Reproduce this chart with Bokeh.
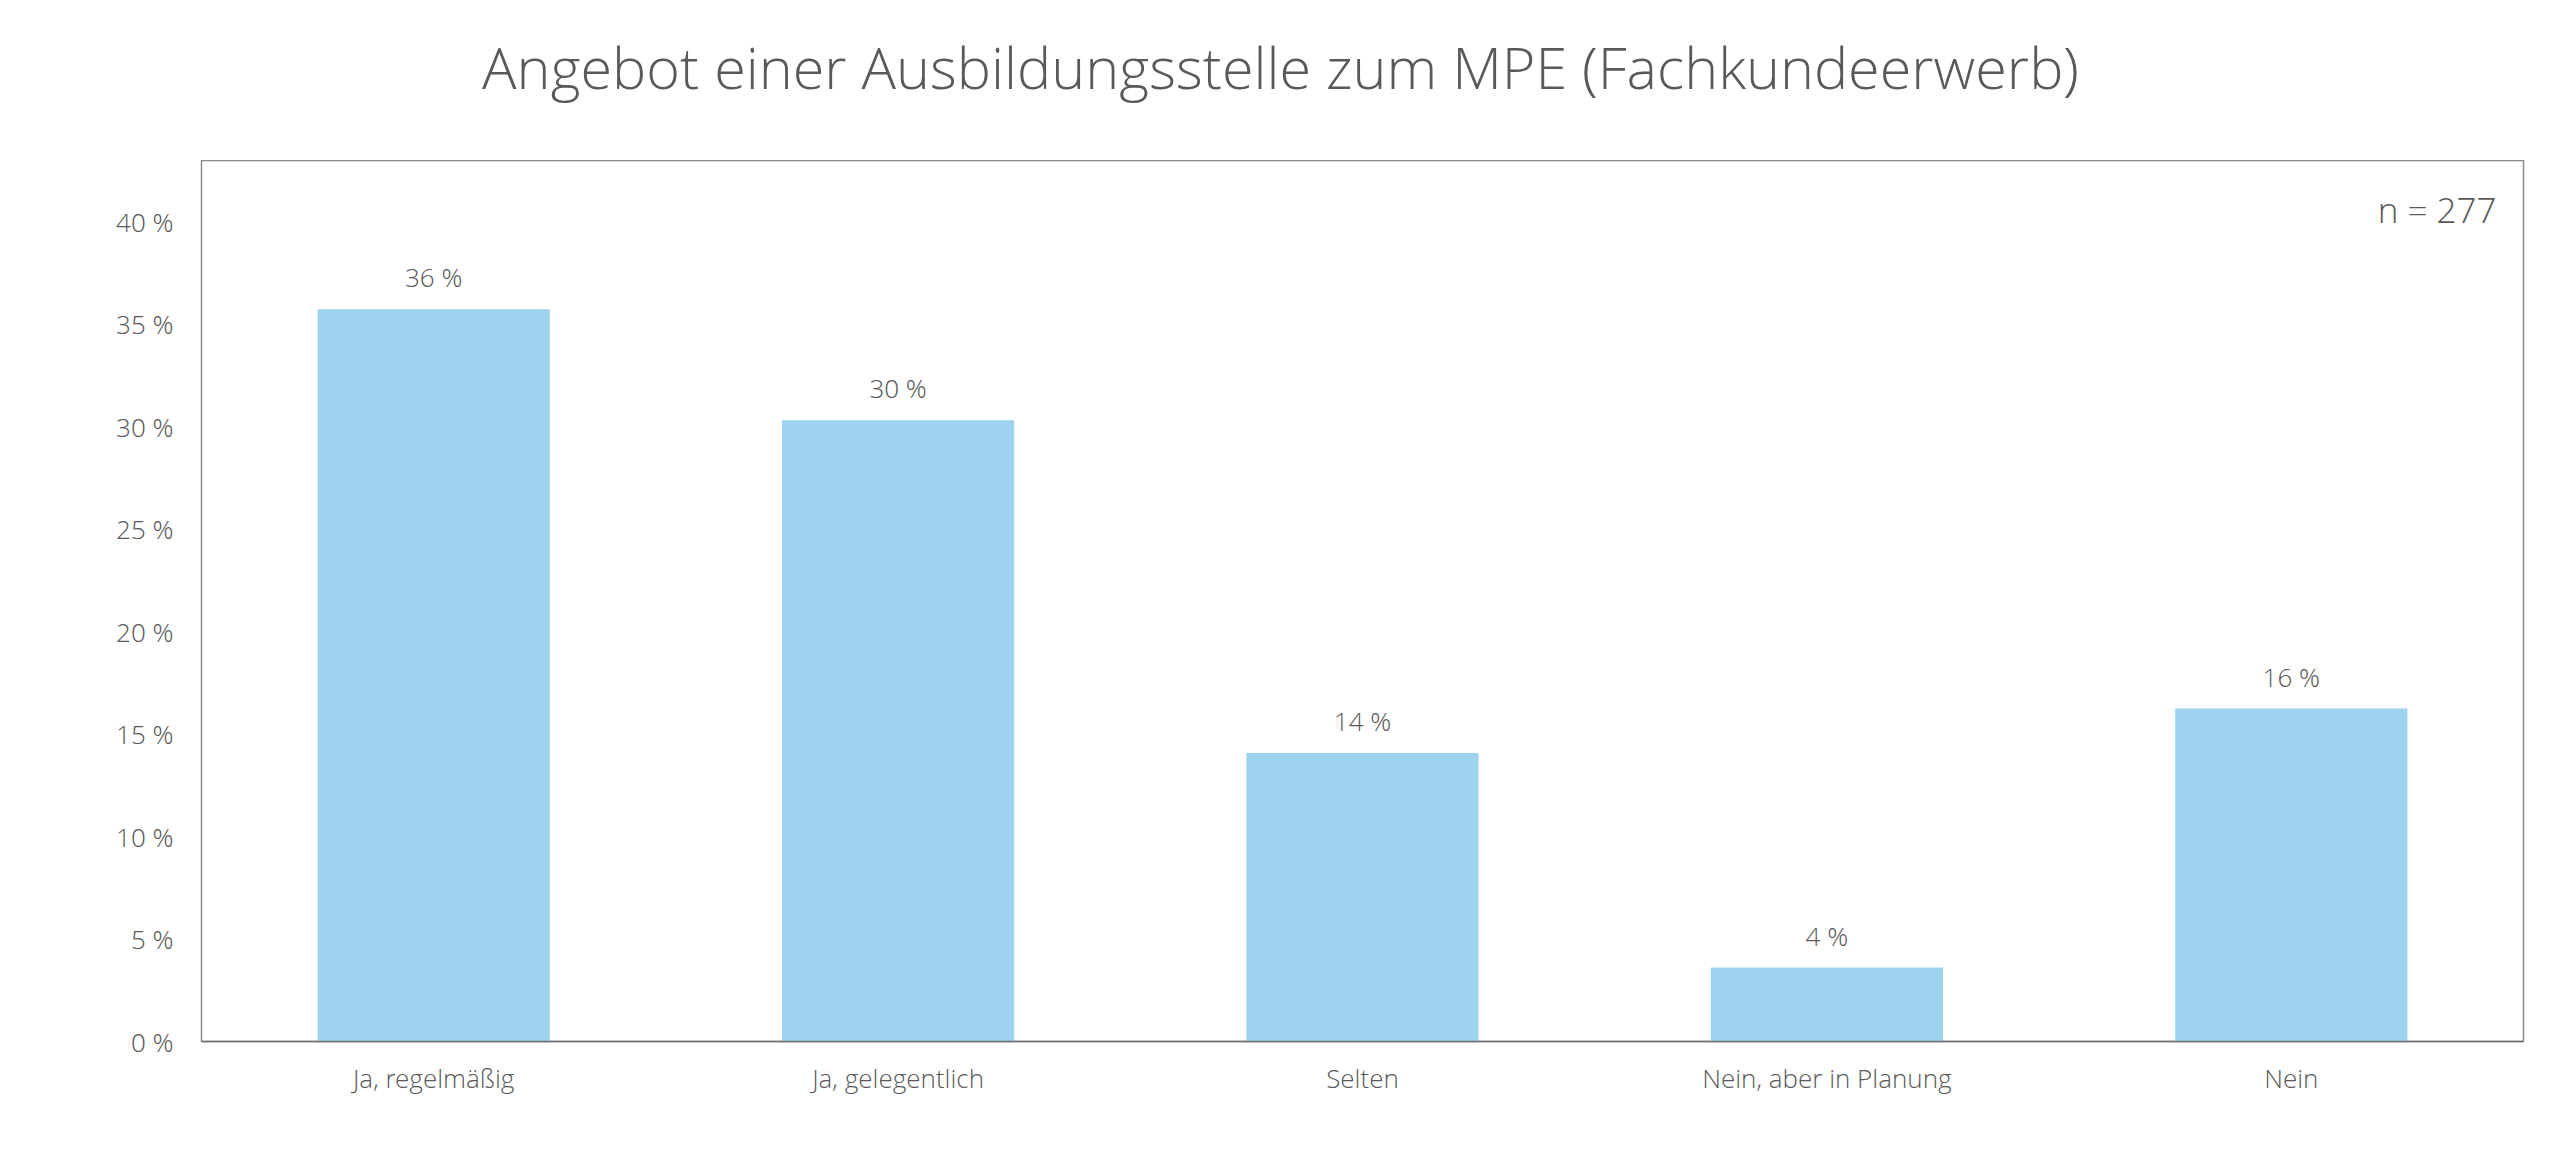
from bokeh.plotting import figure
from bokeh.layouts import column
from bokeh.models import ColumnDataSource, FixedTicker, Label, Range1d, FactorRange
from bokeh.core.properties import value
from bokeh.embed import file_html
from bokeh.resources import INLINE

categories = ["Ja, regelmäßig", "Ja, gelegentlich", "Selten", "Nein, aber in Planung", "Nein"]
percent_values = [35.74, 30.32, 14.08, 3.61, 16.25]
value_labels = ["36 %", "30 %", "14 %", "4 %", "16 %"]
y_ticks = [0, 5, 10, 15, 20, 25, 30, 35, 40]
y_tick_labels = ["0 %", "5 %", "10 %", "15 %", "20 %", "25 %", "30 %", "35 %", "40 %"]
title_text = "Angebot einer Ausbildungsstelle zum MPE (Fachkundeerwerb)"
n_text = "n = 277"

FONT = "'Open Sans Light', 'Open Sans'"
TXT = "#595959"
BAR = "#9DD3EF"

W = 2544

# ---- title strip (separate figure so the title is not clipped) ----
t = figure(width=W, height=160, x_range=Range1d(0, 1), y_range=Range1d(0, 1),
           output_backend="svg", toolbar_location=None,
           min_border_left=0, min_border_right=0, min_border_top=0, min_border_bottom=0,
           background_fill_color="white", border_fill_color="white")
t.axis.visible = False
t.grid.visible = False
t.outline_line_color = None
t.add_layout(Label(x=0.4647, y=0.5875, text=title_text, text_align="center",
                   text_baseline="alphabetic", text_font=FONT, text_font_size="57.5px",
                   text_color=TXT))

# ---- main chart ----
src = ColumnDataSource(dict(cat=categories, val=percent_values, lab=value_labels))

p = figure(
    width=W, height=991,
    x_range=FactorRange(factors=categories, range_padding=0, factor_padding=0),
    y_range=Range1d(0, 43),
    output_backend="svg", toolbar_location=None,
    min_border_left=201, min_border_right=21, min_border_top=0, min_border_bottom=110,
    background_fill_color="white", border_fill_color="white",
)

p.vbar(x="cat", top="val", width=0.5, source=src, fill_color=BAR, line_color=None)
p.text(x="cat", y="val", text="lab", source=src, text_align="center",
       text_baseline="alphabetic", y_offset=-32, text_font=value(FONT),
       text_font_size="26px", text_color=TXT)

p.add_layout(Label(x=5, y=40.6, x_offset=-27, text=n_text, text_align="right",
                   text_baseline="alphabetic", text_font=FONT, text_font_size="35px",
                   text_color=TXT))

p.xgrid.visible = False
p.ygrid.visible = False
p.outline_line_color = "#8a8a8a"
p.outline_line_width = 1.5

p.yaxis.ticker = FixedTicker(ticks=y_ticks)
p.yaxis.major_label_overrides = {t_: l for t_, l in zip(y_ticks, y_tick_labels)}
p.yaxis.axis_line_color = None
p.yaxis.major_tick_line_color = None
p.yaxis.minor_tick_line_color = None
p.yaxis.major_tick_out = 0
p.yaxis.major_label_standoff = 28
p.yaxis.major_label_text_font = FONT
p.yaxis.major_label_text_font_size = "26px"
p.yaxis.major_label_text_color = TXT

p.xaxis.axis_line_color = "#6d6d6d"
p.xaxis.axis_line_width = 1.5
p.xaxis.major_tick_line_color = None
p.xaxis.minor_tick_line_color = None
p.xaxis.major_tick_out = 0
p.xaxis.major_label_standoff = 18
p.xaxis.major_label_text_font = FONT
p.xaxis.major_label_text_font_size = "26px"
p.xaxis.major_label_text_color = TXT

layout = column(t, p, spacing=0)
open("out.html", "w").write(file_html(layout, INLINE))
